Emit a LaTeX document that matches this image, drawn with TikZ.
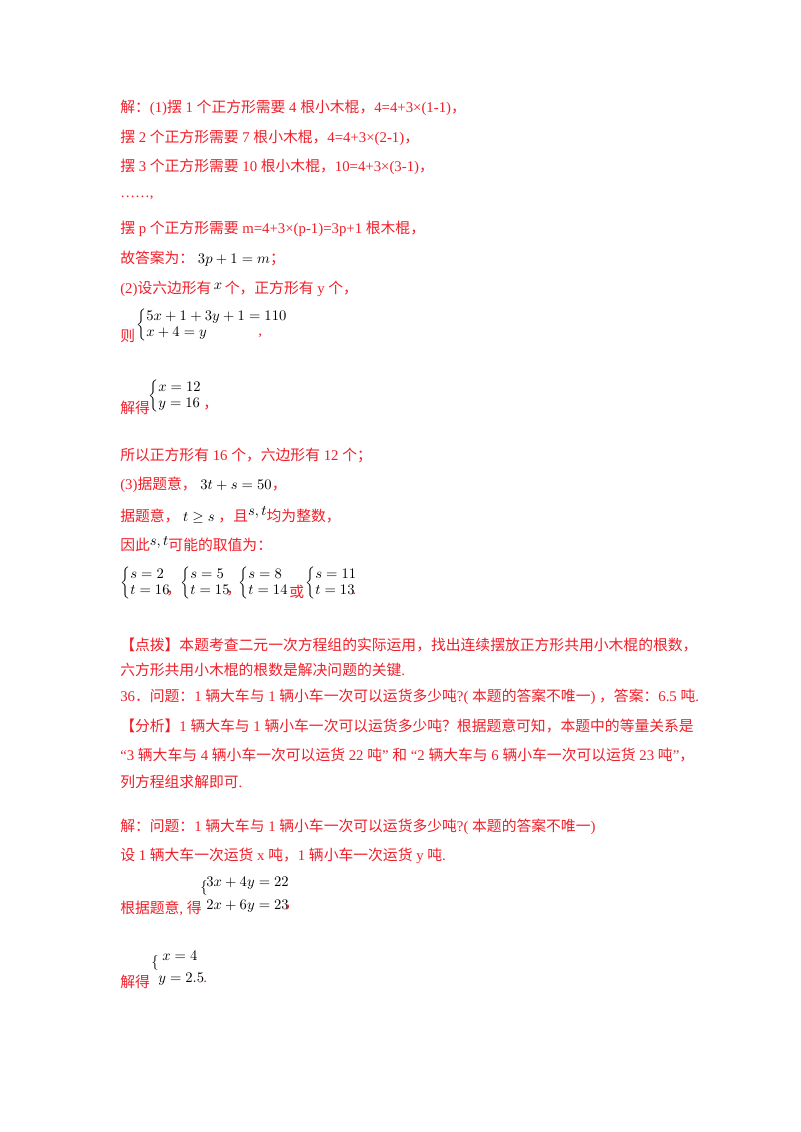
\documentclass[tikz,border=0pt]{standalone}
\usepackage{fontspec}
\setmainfont{Liberation Serif}
\newfontfamily\cjk{Noto Sans CJK SC}
\newcommand\zh[1]{{\cjk #1}}
\definecolor{ans}{RGB}{240,30,40}
\begin{document}
\begin{tikzpicture}[x=0.75pt,y=-0.75pt,
  t/.style={anchor=west,inner sep=0pt,text=ans,font=\fontsize{11.1pt}{13pt}\selectfont},
  m/.style={anchor=west,inner sep=0pt,text=black,font=\fontsize{10.5pt}{12pt}\selectfont}]
\useasboundingbox (0,0) rectangle (800,1132);
\node[t] (l1) at (120,108) {\zh{解：}(1)\zh{摆} 1 \zh{个正方形需要} 4 \zh{根小木棍，}4=4+3×(1-1)\zh{，}};
\node[t] (l2) at (120,138) {\zh{摆} 2 \zh{个正方形需要} 7 \zh{根小木棍，}4=4+3×(2-1)\zh{，}};
\node[t] (l3) at (120,167) {\zh{摆} 3 \zh{个正方形需要} 10 \zh{根小木棍，}10=4+3×(3-1)\zh{，}};
\node[t] (l4) at (120,198) {……,};
\node[t] (l5) at (120,229) {\zh{摆} p \zh{个正方形需要} m=4+3×(p-1)=3p+1 \zh{根木棍，}};
\node[t] (l6) at (120,259) {\zh{故答案为：} \textcolor{black}{$3p+1=m$}\zh{；}};
\node[t] (l7) at (120,289) {(2)\zh{设六边形有}\,\raisebox{3pt}{\textcolor{black}{$x$}}\,\zh{个，正方形有} y \zh{个，}};
\node[t] (l8) at (120,336) {\zh{则}};
\node[m] (s8) at (136,325) {$\left\{\begin{array}{@{}l@{}}5x+1+3y+1=110\\ x+4=y\end{array}\right.$};
\node[t] (c8) at (258,336) {,};
\node[t] (l9) at (120,408) {\zh{解得}};
\node[m] (s9) at (148,396) {$\left\{\begin{array}{@{}l@{}}x=12\\ y=16\end{array}\right.$};
\node[t] (c9) at (203,408) {\zh{，}};
\node[t] (l10) at (120,455) {\zh{所以正方形有} 16 \zh{个，六边形有} 12 \zh{个；}};
\node[t] (l11) at (120,485) {(3)\zh{据题意，} \textcolor{black}{$3t+s=50$}\zh{，}};
\node[t] (l12) at (120,515) {\zh{据题意，} \textcolor{black}{$t\geq s$} \zh{，且}\raisebox{4pt}{\textcolor{black}{$s,t$}}\zh{均为整数，}};
\node[t] (l13) at (120,544) {\zh{因此}\raisebox{4pt}{\textcolor{black}{$s,t$}}\zh{可能的取值为：}};
\node[m] (a1) at (120,583) {$\left\{\begin{array}{@{}l@{}}s=2\\ t=16\end{array}\right.$};
\node[t] (b1) at (166,594) {\zh{，}};
\node[m] (a2) at (180,583) {$\left\{\begin{array}{@{}l@{}}s=5\\ t=15\end{array}\right.$};
\node[t] (b2) at (226,594) {\zh{，}};
\node[m] (a3) at (238,583) {$\left\{\begin{array}{@{}l@{}}s=8\\ t=14\end{array}\right.$};
\node[t] (b3) at (289,592) {\zh{或}};
\node[m] (a4) at (305,583) {$\left\{\begin{array}{@{}l@{}}s=11\\ t=13\end{array}\right.$};
\node[t] (b4) at (352,594) {.};
\node[t] (l15) at (120,645) {\zh{【点拨】本题考查二元一次方程组的实际运用，找出连续摆放正方形共用小木棍的根数，}};
\node[t] (l16) at (120,670) {\zh{六方形共用小木棍的根数是解决问题的关键}.};
\node[t] (l17) at (120,697) {36\zh{．问题：}1 \zh{辆大车与} 1 \zh{辆小车一次可以运货多少吨}?( \zh{本题的答案不唯一}) \zh{，答案：}6.5 \zh{吨}.};
\node[t] (l18) at (120,726) {\zh{【分析】}1 \zh{辆大车与} 1 \zh{辆小车一次可以运货多少吨？根据题意可知，本题中的等量关系是}};
\node[t] (l19) at (120,755) {“3 \zh{辆大车与} 4 \zh{辆小车一次可以运货} 22 \zh{吨}” \zh{和} “2 \zh{辆大车与} 6 \zh{辆小车一次可以运货} 23 \zh{吨}”\zh{，}};
\node[t] (l20) at (120,782) {\zh{列方程组求解即可}.};
\node[t] (l21) at (120,827) {\zh{解：问题：}1 \zh{辆大车与} 1 \zh{辆小车一次可以运货多少吨}?( \zh{本题的答案不唯一})};
\node[t] (l22) at (120,856) {\zh{设} 1 \zh{辆大车一次运货} x \zh{吨，}1 \zh{辆小车一次运货} y \zh{吨}.};
\node[t] (l23) at (120,908) {\zh{根据题意}, \zh{得}};
\node[m] (s23) at (200,888) {$\{$};
\node[m] (e23) at (206,883) {$3x+4y=22$};
\node[m] (f23) at (206,906) {$2x+6y=23$};
\node[t] (c23) at (284,908) {\zh{，}};
\node[t] (l24) at (120,982) {\zh{解得}};
\node[m] (s24) at (151,963) {$\{$};
\node[m] (e24) at (162,956) {$x=4$};
\node[m] (f24) at (158,979) {$y=2.5$};
\node[t] (c24) at (203,982) {.};
\end{tikzpicture}
\end{document}
